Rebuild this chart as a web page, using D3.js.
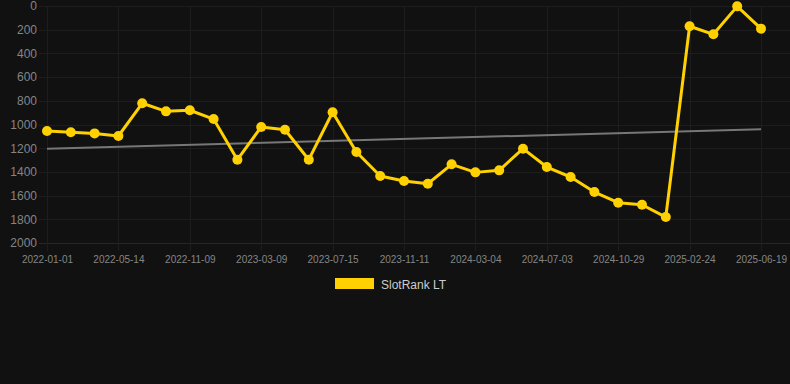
<!DOCTYPE html>
<html>
<head>
<meta charset="utf-8">
<script src="https://d3js.org/d3.v7.min.js"></script>
<style>
  html, body { margin: 0; padding: 0; background: #111111; }
  svg { display: block; font-family: "Liberation Sans", Arial, sans-serif; }
</style>
</head>
<body>
<div id="chart"></div>
<script>
// categories (every third one is labelled on the axis)
const dates = [
  '2022-01-01', '2022-02-14', '2022-03-30', '2022-05-14', '2022-07-13', '2022-09-11',
  '2022-11-09', '2022-12-19', '2023-01-28', '2023-03-09', '2023-04-21', '2023-06-02',
  '2023-07-15', '2023-08-24', '2023-10-03', '2023-11-11', '2023-12-19', '2024-01-26',
  '2024-03-04', '2024-04-13', '2024-05-23', '2024-07-03', '2024-08-11', '2024-09-19',
  '2024-10-29', '2024-12-07', '2025-01-15', '2025-02-24', '2025-04-03', '2025-05-11',
  '2025-06-19'
];

// SlotRank LT series
const rank = [
  1055, 1066, 1075, 1097, 821, 889, 880, 954, 1297, 1021, 1044, 1297,
  897, 1232, 1435, 1477, 1500, 1336, 1404, 1387, 1204, 1359, 1443, 1570,
  1660, 1677, 1781, 171, 239, 3, 191
];

// trend line end points
const trend = [1205, 1040];

const yTicks = [0, 200, 400, 600, 800, 1000, 1200, 1400, 1600, 1800, 2000];
const seriesName = 'SlotRank LT';

const width = 790, height = 384;
const plot = { left: 47, right: 761, top: 6, bottom: 243 };

const svg = d3.select('#chart').append('svg')
  .attr('width', width)
  .attr('height', height);

svg.append('rect')
  .attr('width', width)
  .attr('height', height)
  .attr('fill', '#111111');

const x = d3.scalePoint()
  .domain(dates)
  .range([plot.left, plot.right]);

const y = d3.scaleLinear()
  .domain([0, 2000])
  .range([plot.top, plot.bottom]);

const labelled = dates.filter((d, i) => i % 3 === 0);

// horizontal grid
svg.append('g')
  .selectAll('line')
  .data(yTicks)
  .join('line')
  .attr('x1', 39)
  .attr('x2', width)
  .attr('y1', d => Math.round(y(d)) + 0.5)
  .attr('y2', d => Math.round(y(d)) + 0.5)
  .attr('stroke', d => d === 2000 ? '#272727' : '#1d1d1d')
  .attr('stroke-width', 1);

// vertical grid
svg.append('g')
  .selectAll('line')
  .data(labelled)
  .join('line')
  .attr('x1', d => Math.round(x(d)) + 0.5)
  .attr('x2', d => Math.round(x(d)) + 0.5)
  .attr('y1', plot.top)
  .attr('y2', plot.bottom + 8)
  .attr('stroke', '#1d1d1d')
  .attr('stroke-width', 1);

// y axis labels
const yAxis = svg.append('g')
  .attr('transform', 'translate(37,0)')
  .call(d3.axisLeft(y).tickValues(yTicks).tickFormat(d3.format('d')).tickSize(0).tickPadding(0));
yAxis.select('.domain').remove();
yAxis.selectAll('text')
  .attr('fill', '#858585')
  .style('font-size', '12px')
  .style('font-family', '"Liberation Sans", Arial, sans-serif');

// x axis labels
const xAxis = svg.append('g')
  .attr('transform', `translate(0,${plot.bottom + 13})`)
  .call(d3.axisBottom(x).tickValues(labelled).tickSize(0).tickPadding(0));
xAxis.select('.domain').remove();
xAxis.selectAll('text')
  .attr('fill', '#858585')
  .style('font-size', '10px')
  .style('font-family', '"Liberation Sans", Arial, sans-serif');

// trend line
svg.append('line')
  .attr('x1', x(dates[0]))
  .attr('x2', x(dates[dates.length - 1]))
  .attr('y1', y(trend[0]))
  .attr('y2', y(trend[1]))
  .attr('stroke', '#777777')
  .attr('stroke-width', 2);

// series line
const line = d3.line()
  .x((d, i) => x(dates[i]))
  .y(d => y(d));

svg.append('path')
  .datum(rank)
  .attr('d', line)
  .attr('fill', 'none')
  .attr('stroke', '#FFD100')
  .attr('stroke-width', 3)
  .attr('stroke-linejoin', 'round');

svg.append('g')
  .selectAll('circle')
  .data(rank)
  .join('circle')
  .attr('cx', (d, i) => x(dates[i]))
  .attr('cy', d => y(d))
  .attr('r', 5)
  .attr('fill', '#FFD100');

// legend
svg.append('rect')
  .attr('x', 335)
  .attr('y', 278)
  .attr('width', 39)
  .attr('height', 11)
  .attr('fill', '#FFD100');

svg.append('text')
  .attr('x', 381)
  .attr('y', 289)
  .attr('fill', '#cccccc')
  .style('font-size', '12px')
  .text(seriesName);
</script>
</body>
</html>
